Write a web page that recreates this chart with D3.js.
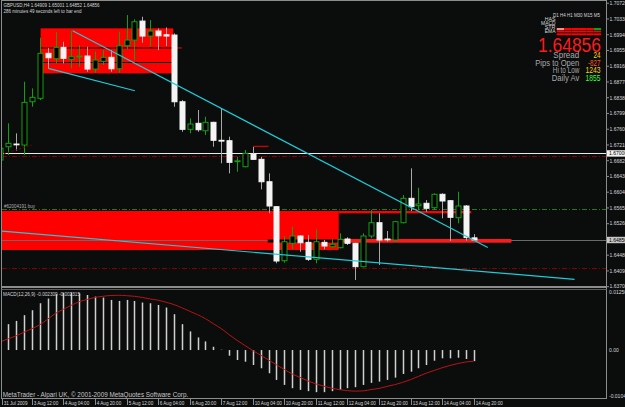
<!DOCTYPE html>
<html>
<head>
<meta charset="utf-8">
<script src="https://cdn.jsdelivr.net/npm/d3@7"></script>
<style>
html, body { margin:0; padding:0; background:#0b0c0c; }
svg { display:block; }
</style>
</head>
<body>
<svg id="chart" width="625" height="407"></svg>
<script>
/* GBPUSD H4 candles, bar 0 = 31 Jul 2009 20:00 */
var Opens  = [1.66837,1.67166,1.67233,1.67208,1.68280,1.68365,1.69479,1.69345,1.69627,1.69330,
              1.69404,1.69412,1.69090,1.69281,1.69380,1.69097,1.69667,1.69808,1.70278,1.69907,
              1.70031,1.69939,1.69932,1.68280,1.67597,1.67746,1.67562,1.67770,1.67325,1.67315,
              1.66805,1.66671,1.66985,1.66854,1.66299,1.65681,1.64343,1.64774,1.64955,1.64799,
              1.64378,1.64799,1.64690,1.64665,1.64881,1.64774,1.64195,1.64955,1.65284,1.64881,
              1.64856,1.65284,1.65888,1.65705,1.65765,1.65656,1.65988,1.65829,1.65408,1.65698,
              1.64909];
var Highs  = [1.67183,1.67746,1.67498,1.68776,1.68612,1.69865,1.69617,1.69999,1.69766,1.70038,
              1.69684,1.69642,1.69518,1.69560,1.69560,1.70014,1.70427,1.70321,1.70385,1.70303,
              1.70098,1.70122,1.69974,1.68322,1.67869,1.68075,1.67909,1.67785,1.68117,1.67414,
              1.66919,1.67084,1.67166,1.66919,1.66507,1.65698,1.64955,1.65185,1.64980,1.64980,
              1.65121,1.64856,1.64873,1.65022,1.64923,1.64789,1.65022,1.65599,1.65517,1.65079,
              1.65326,1.65970,1.66631,1.66151,1.65846,1.66012,1.66012,1.65846,1.66052,1.65723,
              1.65001];
var Lows   = [1.66763,1.66961,1.67067,1.66961,1.68156,1.68322,1.69107,1.69231,1.69231,1.69107,
              1.69147,1.69023,1.68998,1.69189,1.69023,1.68998,1.69578,1.69313,1.69741,1.69642,
              1.69560,1.69659,1.68156,1.67537,1.67498,1.67537,1.67456,1.67166,1.66755,1.66507,
              1.66547,1.66656,1.66837,1.66111,1.65517,1.64279,1.64294,1.64626,1.64566,1.64336,
              1.64279,1.64626,1.64675,1.64650,1.64732,1.63866,1.64180,1.64898,1.64237,1.64814,
              1.64839,1.65269,1.65574,1.65599,1.65557,1.65599,1.65393,1.64831,1.65269,1.64839,
              1.64852];
var Closes = [1.67127,1.67250,1.67226,1.68265,1.68389,1.69479,1.69370,1.69627,1.69355,1.69394,
              1.69412,1.69090,1.69313,1.69380,1.69097,1.69667,1.69808,1.70261,1.69907,1.70031,
              1.69914,1.69907,1.68280,1.67597,1.67728,1.67587,1.67770,1.67325,1.67307,1.66780,
              1.66817,1.67003,1.66854,1.66299,1.65698,1.64336,1.64814,1.64955,1.64789,1.64378,
              1.64814,1.64707,1.64750,1.64873,1.64774,1.64195,1.64955,1.65284,1.64856,1.64866,
              1.65309,1.65888,1.65681,1.65747,1.65641,1.65988,1.65822,1.65418,1.65698,1.64915,
              1.64856];

/* MACD(12,26,9): main (histogram) and signal */
var MacdMain = [0.00435,0.00539,0.00607,0.00726,0.00829,0.00974,0.01072,0.01161,0.01196,0.01196,
                0.01182,0.01146,0.01113,0.01092,0.01043,0.01022,0.01043,0.01022,0.00989,0.00974,
                0.00939,0.00885,0.00746,0.00539,0.00388,0.00263,0.00180,0.00068,0.00006,-0.00118,
                -0.00207,-0.00243,-0.00311,-0.00379,-0.00483,-0.00622,-0.00726,-0.00794,-0.00829,-0.00856,
                -0.00877,-0.00877,-0.00856,-0.00829,-0.00794,-0.00773,-0.00726,-0.00684,-0.00657,-0.00622,
                -0.00574,-0.00498,-0.00450,-0.00379,-0.00311,-0.00222,-0.00172,-0.00172,-0.00160,-0.00187,
                -0.00231];
var MacdSignal = [0.00172,0.00234,0.00296,0.00371,0.00446,0.00527,0.00643,0.00763,0.00850,0.00933,
                  0.01007,0.01053,0.01095,0.01119,0.01136,0.01140,0.01132,0.01119,0.01095,0.01063,
                  0.01037,0.00995,0.00947,0.00881,0.00808,0.00736,0.00653,0.00549,0.00446,0.00321,
                  0.00203,0.00095,-0.00010,-0.00108,-0.00207,-0.00307,-0.00404,-0.00498,-0.00570,-0.00643,
                  -0.00705,-0.00752,-0.00794,-0.00825,-0.00844,-0.00856,-0.00850,-0.00823,-0.00798,-0.00757,
                  -0.00721,-0.00674,-0.00616,-0.00549,-0.00481,-0.00425,-0.00369,-0.00321,-0.00280,-0.00249,
                  -0.00232];

/* Axis labels */
var TimeLabels = ["31 Jul 2009","3 Aug 12:00","4 Aug 04:00","4 Aug 20:00","5 Aug 12:00","6 Aug 04:00",
                  "6 Aug 20:00","7 Aug 12:00","10 Aug 04:00","10 Aug 20:00","11 Aug 12:00","12 Aug 04:00",
                  "12 Aug 20:00","13 Aug 12:00","14 Aug 04:00","14 Aug 20:00"];
var TimeLabelBars = [0,4,8,12,16,20,24,28,32,36,40,44,48,52,56,60];
var PriceTicks = [1.70720,1.70330,1.69940,1.69550,1.69160,1.68770,1.68380,1.67990,1.67600,1.67210,
                  1.66820,1.66430,1.66040,1.65650,1.65260,1.64870,1.64480,1.64090,1.63700];
var MacdTicks = [0.01250, 0.00, -0.01040];
var MacdTickText = ["0.01250", "0.00", "-0.01040"];

/* Chart objects (bar index, price) */
var Boxes = [
    {bars:[5.1, 21.9],  prices:[1.70098, 1.68983], color:"#ff0000"},
    {bars:[-1, 42.9],   prices:[1.65574, 1.64608], color:"#ff0000"},
    {bars:[42.9, 59.7], prices:[1.65574, 1.65517], color:"#ff0000"}
];
var Stripes = [
    {bars:[5.1, 21.9],  prices:[1.69625, 1.69610], color:"#000000"},
    {bars:[5.1, 21.9],  prices:[1.69265, 1.69240], color:"#000000"},
    {bars:[21.9, 23.0], prices:[1.69625, 1.69610], color:"#ff0000"}
];
var HLines = [
    {price:1.67000, color:"#e8e8e8", dash:null},
    {price:1.66948, color:"#8a0000", dash:"5,2,1,2"},
    {price:1.65616, color:"#1f7a1f", dash:"5,2,1,2"},
    {price:1.64155, color:"#8a0000", dash:"5,2,1,2"},
    {price:1.64856, color:"#6a6a6a", dash:null}
];
var OverBid = [
    {bars:[33.9, 42.9], prices:[1.64868, 1.64794], color:"#000000"},
    {bars:[42.9, 64.8], prices:[1.64881, 1.64789], color:"#ff1a1a"}
];
var TrendLines = [
    {p1:[9.16, 1.70038],  p2:[61.8, 1.64670],  color:"#1ecbd6", dash:null},
    {p1:[6.07, 1.69107],  p2:[17.05, 1.68553], color:"#1ecbd6", dash:null},
    {p1:[-0.05, 1.65079], p2:[72.8, 1.63883],  color:"#1ecbd6", dash:null},
    {p1:[-0.05, 1.66961], p2:[3.97, 1.67208],  color:"#8a0000", dash:"2,2"},
    {p1:[32.04, 1.67176], p2:[34.0, 1.67176],  color:"#d00000", dash:null}
];

/* Info panel */
var PanelNames = ["Spread", "Pips to Open", "Hi to Low", "Daily Av"];
var PanelValues = ["24", "-827", "1243", "1855"];
var PanelColors = ["#ffd400", "#ff5a28", "#ffd400", "#3cff3c"];
var SignalRows = [
    ["#ff8a8a","#ff0000","#ff0000","#ff0000","#ff0000","#14a014"],
    ["#ff0000","#ff0000","#ff0000","#ff0000","#ff0000","#ff0000"],
    ["#ff0000","#ff0000","#ff0000","#ff0000","#ff0000","#ff0000"]
];
var IndicatorNames = ["HAS", "MACD", "STR", "EMA"];

var FONT = "'Liberation Sans', Arial, sans-serif";

function addText(g, str, x, y, size, color, width, anchor) {
    var t = g.append("text")
        .attr("x", x).attr("y", y)
        .style("font-family", FONT)
        .style("font-size", size + "px")
        .style("fill", color)
        .text(str);
    if (anchor) t.attr("text-anchor", anchor);
    if (width) t.attr("textLength", width).attr("lengthAdjust", "spacingAndGlyphs");
    return t;
}

function Draw() {
    var svg = d3.select("#chart");
    var plot = {left:2, right:606, top:0.5, bottom:287};

    var xScale = d3.scaleLinear().domain([0, 60]).range([0.4, 473.6]);
    var yScale = d3.scaleLinear().domain([1.63692, 1.70800]).range([287, 0]);
    var mScale = d3.scaleLinear().domain([-0.0104, 0.0125]).range([400, 290]);

    svg.append("rect").attr("width", 625).attr("height", 407).attr("fill", "#0b0c0c");

    svg.append("clipPath").attr("id", "mainclip")
       .append("rect").attr("x", plot.left).attr("y", plot.top)
       .attr("width", plot.right - plot.left).attr("height", plot.bottom - plot.top);
    svg.append("clipPath").attr("id", "macdclip")
       .append("rect").attr("x", 2).attr("y", 290).attr("width", 604).attr("height", 108);

    var main = svg.append("g").attr("clip-path", "url(#mainclip)");

    function boxRect(g, d) {
        g.append("rect")
         .attr("x", xScale(d.bars[0]))
         .attr("y", yScale(d.prices[0]))
         .attr("width", xScale(d.bars[1]) - xScale(d.bars[0]))
         .attr("height", Math.max(1, yScale(d.prices[1]) - yScale(d.prices[0])))
         .attr("fill", d.color);
    }

    // Rectangles behind the chart
    Boxes.forEach(function(d) { boxRect(main, d); });
    Stripes.forEach(function(d) { boxRect(main, d); });

    // Horizontal lines
    HLines.forEach(function(d) {
        var y = Math.round(yScale(d.price)) + 0.5;
        var l = main.append("line")
            .attr("x1", plot.left).attr("x2", plot.right)
            .attr("y1", y).attr("y2", y)
            .attr("stroke", d.color).attr("stroke-width", 1);
        if (d.dash) l.attr("stroke-dasharray", d.dash);
    });
    OverBid.forEach(function(d) { boxRect(main, d); });

    // Candles
    var candles = d3.range(Opens.length).map(function(i) {
        return {i:i, o:Opens[i], h:Highs[i], l:Lows[i], c:Closes[i]};
    });
    var cg = main.append("g").selectAll("g").data(candles).enter().append("g");
    cg.append("line")
      .attr("x1", function(d) { return Math.round(xScale(d.i)) + 0.5; })
      .attr("x2", function(d) { return Math.round(xScale(d.i)) + 0.5; })
      .attr("y1", function(d) { return yScale(d.h); })
      .attr("y2", function(d) { return yScale(d.l); })
      .attr("stroke", function(d) { return d.c >= d.o ? "#12a012" : "#a8a8a8"; })
      .attr("stroke-width", 1);
    cg.append("rect")
      .attr("x", function(d) { return Math.round(xScale(d.i)) - 2; })
      .attr("y", function(d) { return Math.min(yScale(d.o), yScale(d.c)); })
      .attr("width", 5)
      .attr("height", function(d) { return Math.max(0.8, Math.abs(yScale(d.o) - yScale(d.c))); })
      .attr("fill", function(d) { return d.c >= d.o ? "#000000" : "#f4f4f4"; })
      .attr("stroke", function(d) { return d.c >= d.o ? "#12a012" : "#f4f4f4"; })
      .attr("stroke-width", 1);

    // Trend lines
    TrendLines.forEach(function(d) {
        var l = main.append("line")
            .attr("x1", xScale(d.p1[0])).attr("y1", yScale(d.p1[1]))
            .attr("x2", xScale(d.p2[0])).attr("y2", yScale(d.p2[1]))
            .attr("stroke", d.color).attr("stroke-width", d.dash ? 1 : 1.2);
        if (d.dash) l.attr("stroke-dasharray", d.dash);
    });

    // Titles
    addText(svg, "GBPUSD,H4  1.64909 1.65001 1.64852 1.64856", 3.5, 7.3, 5.5, "#d8d8d8", 96);
    addText(svg, "286 minutes 49 seconds left to bar end", 3.5, 12.6, 5.5, "#d8d8d8", 78);
    addText(svg, "#62004191 buy", 4, 208, 5, "#b0b0b0", 31);

    // Info panel top right
    addText(svg, "D1 H4 H1 M30 M15 M5", 553, 16.8, 5, "#d8d8d8", 47);
    IndicatorNames.forEach(function(n, i) {
        addText(svg, n, 555.5, 21.4 + i * 4, 4.6, "#d8d8d8", n.length * 3.6, "end");
    });
    SignalRows.forEach(function(row, r) {
        var ys = [28, 31, 33.3], hs = [2.3, 1.4, 2];
        row.forEach(function(col, c) {
            svg.append("rect")
               .attr("x", 556.7 + c * 7.4).attr("y", ys[r])
               .attr("width", 7.4).attr("height", hs[r])
               .attr("fill", col);
        });
    });
    addText(svg, "1.64856", 601, 51.8, 20, "#ff1a1a", 63, "end");
    var labelW = [26, 44, 26.5, 27.5], valueW = [7, 12.5, 15, 15];
    PanelNames.forEach(function(n, i) {
        var y = 57.9 + i * 7.6;
        addText(svg, n, 579.3, y, 8.2, "#a9a9a9", labelW[i], "end");
        addText(svg, PanelValues[i], 600.5, y, 8.2, PanelColors[i], valueW[i], "end");
    });

    // MACD window
    var mg = svg.append("g").attr("clip-path", "url(#macdclip)");
    var zeroY = mScale(0);
    mg.selectAll("line.hist").data(MacdMain).enter().append("line")
      .attr("class", "hist")
      .attr("x1", function(d, i) { return Math.round(xScale(i)) + 0.5; })
      .attr("x2", function(d, i) { return Math.round(xScale(i)) + 0.5; })
      .attr("y1", zeroY)
      .attr("y2", function(d) { return mScale(d); })
      .attr("stroke", "#d0d0d0").attr("stroke-width", 1.5);
    mg.append("path")
      .datum(MacdSignal)
      .attr("fill", "none")
      .attr("stroke", "#b81414").attr("stroke-width", 1)
      .attr("d", d3.line()
          .x(function(d, i) { return xScale(i); })
          .y(function(d) { return mScale(d); })
          .curve(d3.curveMonotoneX));
    addText(svg, "MACD(12,26,9) -0.002309 -0.002315", 3, 295.6, 5, "#d8d8d8", 77);
    addText(svg, "MetaTrader - Alpari UK, \u00a9 2001-2009 MetaQuotes Software Corp.", 2.7, 397.2, 6.5, "#c8c8c8", 185.5);

    // Frames
    var frame = "#8c8c8c";
    svg.append("line").attr("x1", 1.5).attr("x2", 1.5).attr("y1", 0).attr("y2", 399).attr("stroke", frame);
    svg.append("line").attr("x1", 1.5).attr("x2", 606.5).attr("y1", 0.5).attr("y2", 0.5).attr("stroke", frame);
    svg.append("line").attr("x1", 606.5).attr("x2", 606.5).attr("y1", 0).attr("y2", 399).attr("stroke", frame);
    svg.append("rect").attr("x", 1.5).attr("y", 286).attr("width", 605).attr("height", 2).attr("fill", frame);
    svg.append("line").attr("x1", 1.5).attr("x2", 606.5).attr("y1", 289.5).attr("y2", 289.5).attr("stroke", "#5a5a5a");
    svg.append("line").attr("x1", 1.5).attr("x2", 606.5).attr("y1", 398.5).attr("y2", 398.5).attr("stroke", frame);

    // Price axis
    var pa = svg.append("g");
    PriceTicks.forEach(function(p) {
        var y = yScale(p);
        pa.append("line").attr("x1", 606).attr("x2", 609).attr("y1", y).attr("y2", y).attr("stroke", frame);
        addText(pa, p.toFixed(5), 609.5, y + 1.8, 5, "#d8d8d8");
    });
    // Line price tags
    var tags = [{price:1.67000, fill:"#f2f2f2"}, {price:1.64856, fill:"#c8c8c8"}];
    tags.forEach(function(t) {
        var y = yScale(t.price);
        pa.append("rect").attr("x", 607).attr("y", y - 3.2).attr("width", 19).attr("height", 6.4).attr("fill", t.fill);
        addText(pa, t.price.toFixed(5), 609, y + 1.8, 5, "#000000");
    });
    MacdTicks.forEach(function(v, i) {
        var y = Math.min(396, Math.max(292, mScale(v)));
        addText(pa, MacdTickText[i], 609, y + 1.8, 5, "#d8d8d8");
    });

    // Time axis
    var ta = svg.append("g");
    TimeLabelBars.forEach(function(b, i) {
        var x = Math.max(2, Math.round(xScale(b))) + 0.5;
        ta.append("line").attr("x1", x).attr("x2", x).attr("y1", 399).attr("y2", 405).attr("stroke", frame);
        addText(ta, TimeLabels[i], x + 1.2, 405.3, 4.6, "#d8d8d8");
    });
}

Draw();
</script>
</body>
</html>
